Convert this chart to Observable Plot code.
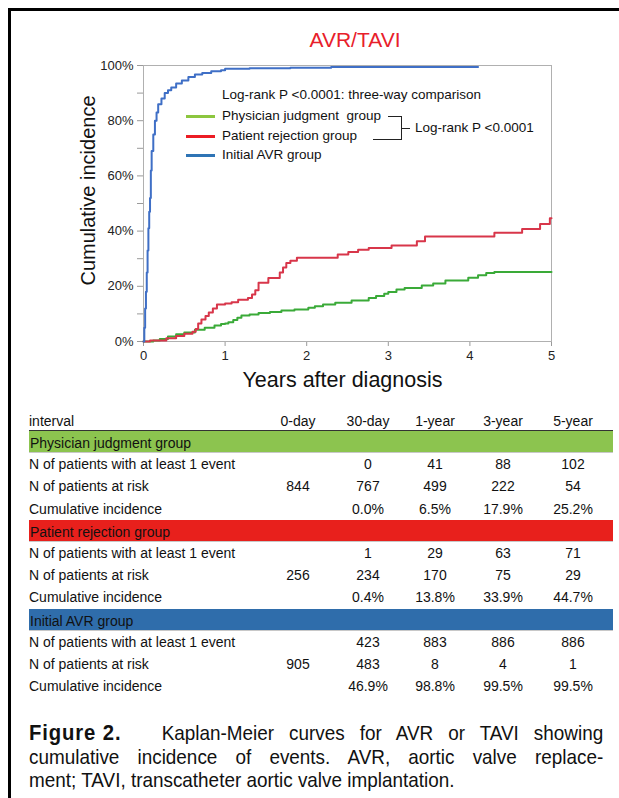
<!DOCTYPE html>
<html><head><meta charset="utf-8">
<script src="https://cdn.jsdelivr.net/npm/d3@7"></script>
<script src="https://cdn.jsdelivr.net/npm/@observablehq/plot@0.6"></script>
<style>
html,body{margin:0;padding:0;background:#fff;}
#page{position:relative;width:619px;height:798px;overflow:hidden;font-family:"Liberation Sans",Arial,Helvetica,sans-serif;color:#111;}
#edge{position:absolute;left:8px;top:8px;width:800px;height:900px;border-left:3px solid #000;border-top:3px solid #000;}
#title{position:absolute;left:255px;width:200px;top:27px;text-align:center;color:#e8202a;font-size:21px;line-height:26px;}
#chart{position:absolute;left:0;top:0;}
#legend{position:absolute;left:0;top:0;width:619px;height:400px;font-size:13.5px;color:#111;}
.lg{position:absolute;white-space:nowrap;line-height:16px;}
.sw{position:absolute;height:3px;width:29px;}
.br{position:absolute;background:#222;}
#table{position:absolute;left:29px;top:410px;width:584px;font-size:14px;color:#111;}
.row{position:relative;height:22.2px;line-height:22.2px;white-space:nowrap;}
.row span{position:absolute;top:0;}
.hdr{height:20px;line-height:22px;border-bottom:1px solid #333;}
.band{box-shadow:inset 0 -1px 0 #c8c8c8;line-height:24px;}
#caption{position:absolute;left:29px;top:721px;width:638px;transform:scaleX(0.9);transform-origin:0 0;font-size:21px;line-height:23.5px;color:#111;}
#caption div{text-align:justify;text-align-last:justify;white-space:nowrap;}
#caption div.last{text-align-last:left;}
#caption b{display:inline-block;letter-spacing:1px;font-size:22.5px;line-height:20px;margin-right:28px;}
</style>
</head><body>
<div id="page">
  <div id="edge"></div>
  <div id="chart"></div>
  <div id="title">AVR/TAVI</div>
  <div id="legend"></div>
  <div id="table"></div>
  <div id="caption">
    <div><b>Figure 2.</b> Kaplan-Meier curves for AVR or TAVI showing</div>
    <div>cumulative incidence of events. AVR, aortic valve replace-</div>
    <div class="last">ment; TAVI, transcatheter aortic valve implantation.</div>
  </div>
</div>
<script>
// ---------- data ----------
const groupNames = ["Physician judgment group", "Patient rejection group", "Initial AVR group"];
const curveColors = ["#3aaa38", "#d8364a", "#3f6fc6"];
const legendColors = ["#8cc63f", "#ec1c24", "#2e74b5"];
const bandColors = ["#8cc44f", "#e8201c", "#2f6dab"];

const xTicks = [0, 1, 2, 3, 4, 5];
const xTickLabels = ["0", "1", "2", "3", "4", "5"];
const yTicks = [0, 20, 40, 60, 80, 100];
const yTickLabels = ["0%", "20%", "40%", "60%", "80%", "100%"];
const yMinorTicks = [10, 30, 50, 70, 90];

// Physician judgment group (years, cumulative incidence %)
const pjTime = [0, 0.12, 0.2, 0.3, 0.4, 0.5, 0.63, 0.75, 0.87, 0.95, 1.0, 1.04, 1.1, 1.15, 1.2, 1.3, 1.41, 1.55, 1.69, 1.85, 2.02, 2.1, 2.2, 2.35, 2.55, 2.76, 2.85, 2.95, 3.0, 3.1, 3.2, 3.41, 3.55, 3.7, 3.98, 4.1, 4.2, 4.3, 5.0];
const pjInc  = [0, 0.4, 0.9, 1.8, 2.6, 3.3, 4.3, 5.0, 5.8, 6.3, 6.5, 7.0, 7.8, 8.6, 9.4, 9.8, 10.3, 10.7, 11.2, 11.6, 12.2, 12.8, 13.4, 14.0, 14.9, 15.8, 16.5, 17.3, 17.9, 18.8, 19.4, 20.3, 21.0, 22.1, 23.1, 24.0, 24.8, 25.2, 25.2];
// Patient rejection group
const prTime = [0, 0.08, 0.28, 0.4, 0.5, 0.6, 0.64, 0.67, 0.71, 0.76, 0.8, 0.85, 0.9, 1.0, 1.08, 1.16, 1.28, 1.33, 1.37, 1.41, 1.53, 1.67, 1.71, 1.75, 1.8, 1.88, 2.38, 2.51, 2.63, 2.76, 3.04, 3.35, 3.45, 4.3, 4.64, 4.86, 4.98, 5.0];
const prInc  = [0, 0.4, 1.2, 2.0, 2.8, 3.5, 4.5, 6.5, 8.0, 9.2, 10.5, 12.0, 13.4, 13.8, 14.2, 15.1, 15.8, 17.0, 18.6, 21.3, 23.0, 25.0, 26.8, 28.4, 29.3, 30.3, 31.5, 32.4, 33.2, 33.9, 34.8, 36.3, 38.0, 39.4, 40.8, 42.6, 44.7, 44.7];
// Initial AVR group
const avTime = [0, 0.01, 0.02, 0.03, 0.04, 0.05, 0.06, 0.07, 0.08, 0.09, 0.1, 0.12, 0.14, 0.16, 0.18, 0.22, 0.26, 0.3, 0.34, 0.4, 0.47, 0.55, 0.63, 0.72, 0.83, 0.95, 1.0, 1.3, 1.8, 2.3, 4.1];
const avInc  = [0, 5, 12, 18, 25, 33, 41, 47, 52, 62, 69, 75, 80, 83, 86, 88, 90, 91, 92, 93.5, 94.6, 95.8, 96.7, 97.3, 97.9, 98.3, 98.8, 99.0, 99.2, 99.5, 99.5];

// table
const intervals = ["0-day", "30-day", "1-year", "3-year", "5-year"];
const rowLabels = ["N of patients with at least 1 event", "N of patients at risk", "Cumulative incidence"];
const pjEvents = ["", "0", "41", "88", "102"];
const pjAtRisk = ["844", "767", "499", "222", "54"];
const pjCumInc = ["", "0.0%", "6.5%", "17.9%", "25.2%"];
const prEvents = ["", "1", "29", "63", "71"];
const prAtRisk = ["256", "234", "170", "75", "29"];
const prCumInc = ["", "0.4%", "13.8%", "33.9%", "44.7%"];
const avEvents = ["", "423", "883", "886", "886"];
const avAtRisk = ["905", "483", "8", "4", "1"];
const avCumInc = ["", "46.9%", "98.8%", "99.5%", "99.5%"];

const legendTitle = "Log-rank P <0.0001: three-way comparison";
const pairText = "Log-rank P <0.0001";

// ---------- chart ----------
const series = [[pjTime, pjInc], [prTime, prInc], [avTime, avInc]];
const rows = series.flatMap(([T, V], g) => T.map((t, i) => ({group: groupNames[g], t, v: V[i]})));

const chart = Plot.plot({
  width: 619, height: 400,
  marginLeft: 143, marginRight: 68, marginTop: 65, marginBottom: 59,
  style: {fontFamily: "Liberation Sans, Arial, sans-serif", background: "transparent", color: "#222"},
  x: {domain: [0, 5], label: null},
  y: {domain: [0, 100], label: null},
  color: {domain: groupNames, range: curveColors},
  marks: [
    Plot.axisY({ticks: yMinorTicks, tickSize: 6, tickFormat: () => "", stroke: "#9a9a9a", label: null}),
    Plot.axisY({ticks: yTicks, tickSize: 6, tickPadding: 4, tickFormat: d => yTickLabels[yTicks.indexOf(d)], fontSize: 13, fill: "#222", stroke: "#9a9a9a", label: null}),
    Plot.axisX({ticks: xTicks, tickSize: 5, tickPadding: 4, tickFormat: d => xTickLabels[xTicks.indexOf(d)], fontSize: 13, fill: "#222", stroke: "#9a9a9a", label: null}),
    Plot.frame({stroke: "#b0b0b0"}),
    Plot.line(rows, {x: "t", y: "v", z: "group", stroke: "group", curve: "step-after", strokeWidth: 2}),
    Plot.text(["Years after diagnosis"], {frameAnchor: "bottom", textAnchor: "middle", lineAnchor: "middle", dx: -5, dy: 39, fontSize: 21.5, fill: "#111"}),
    Plot.text(["Cumulative incidence"], {frameAnchor: "left", textAnchor: "middle", lineAnchor: "middle", rotate: -90, dx: -55, dy: -13, fontSize: 20, fill: "#111"})
  ]
});
document.getElementById("chart").appendChild(chart);

// ---------- legend (overlay) ----------
const lg = document.getElementById("legend");
function add(cls, css, text) {
  const d = document.createElement("div");
  d.className = cls;
  Object.assign(d.style, css);
  if (text != null) d.textContent = text;
  lg.appendChild(d);
  return d;
}
add("lg", {left: "222px", top: "87px"}, legendTitle);
const legY = [116, 136, 155];
const legLabels = ["Physician judgment\u00a0 group", groupNames[1], groupNames[2]];
legY.forEach((y, i) => {
  add("sw", {left: "186px", top: (y - 1.5) + "px", background: legendColors[i]});
  add("lg", {left: "222px", top: (y - 8) + "px"}, legLabels[i]);
});
add("br", {left: "388px", top: "116px", width: "14px", height: "1px"});
add("br", {left: "401px", top: "116px", width: "1px", height: "24px"});
add("br", {left: "373px", top: "139px", width: "29px", height: "1px"});
add("br", {left: "401px", top: "128px", width: "9px", height: "1px"});
add("lg", {left: "415px", top: "120px"}, pairText);

// ---------- table ----------
const colCenters = [298, 368, 435, 503, 573];
const tbl = document.getElementById("table");
function makeRow(label, vals, cls, bg) {
  const r = document.createElement("div");
  r.className = "row " + (cls || "");
  if (bg) r.style.background = bg;
  const l = document.createElement("span");
  l.style.left = (cls === "band" ? 1 : 0) + "px";
  l.textContent = label;
  r.appendChild(l);
  (vals || []).forEach((v, i) => {
    const s = document.createElement("span");
    s.style.left = (colCenters[i] - 29 - 40) + "px";
    s.style.width = "80px";
    s.style.textAlign = "center";
    s.textContent = v;
    r.appendChild(s);
  });
  tbl.appendChild(r);
}
makeRow("interval", intervals, "hdr");
const tableData = [
  [pjEvents, pjAtRisk, pjCumInc],
  [prEvents, prAtRisk, prCumInc],
  [avEvents, avAtRisk, avCumInc]
];
tableData.forEach((g, gi) => {
  makeRow(groupNames[gi], null, "band", bandColors[gi]);
  g.forEach((vals, ri) => makeRow(rowLabels[ri], vals));
});
</script>
</body></html>
